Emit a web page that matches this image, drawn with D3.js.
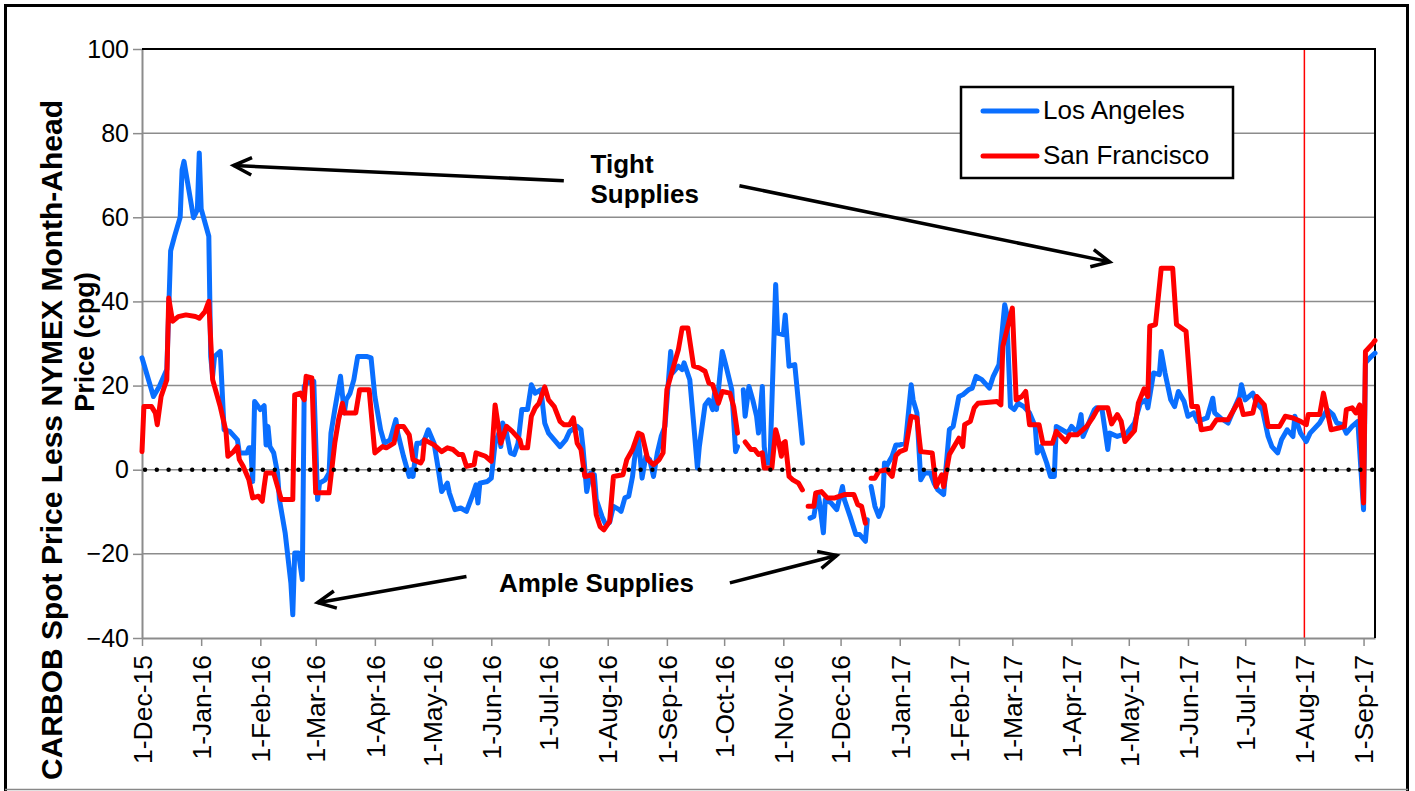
<!DOCTYPE html>
<html><head><meta charset="utf-8">
<script src="https://cdn.jsdelivr.net/npm/d3@7"></script>
<style>
body{margin:0;background:#fff;}
svg{display:block;font-family:Arial,"Liberation Sans",sans-serif;}
</style>
</head><body>
<svg id="chart" width="1415" height="791"></svg>
<script>
// ---------- DATA ----------
const seriesNames = ["Los Angeles", "San Francisco"];
const yTickValues = [-40, -20, 0, 20, 40, 60, 80, 100];
const xTickLabels = ["2015-12-01","2016-01-01","2016-02-01","2016-03-01","2016-04-01","2016-05-01","2016-06-01","2016-07-01","2016-08-01","2016-09-01","2016-10-01","2016-11-01","2016-12-01","2017-01-01","2017-02-01","2017-03-01","2017-04-01","2017-05-01","2017-06-01","2017-07-01","2017-08-01","2017-09-01"];
const xDomain = ["2015-12-01", "2017-09-07"];
const markerDate = "2017-08-01";

const laDates = ["2015-12-01","2015-12-07","2015-12-10","2015-12-14","2015-12-16","2015-12-18","2015-12-21","2015-12-22","2015-12-23","2015-12-28","2015-12-30","2015-12-31","2016-01-01","2016-01-05","2016-01-06","2016-01-07","2016-01-08","2016-01-11","2016-01-13","2016-01-16","2016-01-20","2016-01-21","2016-01-25","2016-01-26","2016-01-27","2016-01-28","2016-01-29","2016-02-01","2016-02-03","2016-02-04","2016-02-05","2016-02-06","2016-02-08","2016-02-10","2016-02-11","2016-02-14","2016-02-17","2016-02-18","2016-02-19","2016-02-21","2016-02-23","2016-02-24","2016-02-25","2016-02-29","2016-03-02","2016-03-03","2016-03-06","2016-03-08","2016-03-09","2016-03-11","2016-03-14","2016-03-16","2016-03-17","2016-03-19","2016-03-21","2016-03-23","2016-03-28","2016-03-30","2016-04-01","2016-04-04","2016-04-06","2016-04-09","2016-04-12","2016-04-13","2016-04-16","2016-04-19","2016-04-20","2016-04-21","2016-04-23","2016-04-25","2016-04-27","2016-04-29","2016-05-02","2016-05-04","2016-05-06","2016-05-09","2016-05-10","2016-05-13","2016-05-16","2016-05-19","2016-05-22","2016-05-24","2016-05-25","2016-05-26","2016-05-30","2016-06-01","2016-06-03","2016-06-05","2016-06-06","2016-06-07","2016-06-09","2016-06-11","2016-06-13","2016-06-15","2016-06-17","2016-06-20","2016-06-22","2016-06-24","2016-06-27","2016-06-29","2016-07-01","2016-07-04","2016-07-07","2016-07-10","2016-07-12","2016-07-16","2016-07-18","2016-07-19","2016-07-21","2016-07-23","2016-07-25","2016-07-26","2016-07-29","2016-07-31","2016-08-02","2016-08-04","2016-08-07","2016-08-08","2016-08-10","2016-08-12","2016-08-14","2016-08-15","2016-08-17","2016-08-19","2016-08-21","2016-08-23","2016-08-25","2016-08-27","2016-08-29","2016-08-31","2016-09-03","2016-09-04","2016-09-07","2016-09-09","2016-09-10","2016-09-13","2016-09-15","2016-09-17","2016-09-18","2016-09-21","2016-09-23","2016-09-25","2016-09-26","2016-09-27","2016-09-30","2016-10-02","2016-10-05","2016-10-07","2016-10-08","2016-10-10","2016-10-11","2016-10-12","2016-10-14","2016-10-16","2016-10-18","2016-10-19","2016-10-21","2016-10-22","2016-10-23","2016-10-25","2016-10-28","2016-10-29","2016-11-01","2016-11-02","2016-11-04","2016-11-07","2016-11-11","2016-11-14","2016-11-15","2016-11-17","2016-11-19","2016-11-20","2016-11-22","2016-11-23","2016-11-26","2016-11-29","2016-12-02","2016-12-03","2016-12-06","2016-12-09","2016-12-11","2016-12-14","2016-12-15","2016-12-16","2016-12-17","2016-12-19","2016-12-21","2016-12-23","2016-12-24","2016-12-25","2016-12-28","2016-12-30","2017-01-01","2017-01-04","2017-01-07","2017-01-08","2017-01-10","2017-01-12","2017-01-14","2017-01-17","2017-01-19","2017-01-21","2017-01-24","2017-01-27","2017-01-29","2017-02-01","2017-02-03","2017-02-06","2017-02-08","2017-02-10","2017-02-13","2017-02-17","2017-02-19","2017-02-22","2017-02-25","2017-02-26","2017-02-28","2017-03-02","2017-03-04","2017-03-07","2017-03-10","2017-03-13","2017-03-14","2017-03-16","2017-03-19","2017-03-21","2017-03-23","2017-03-24","2017-03-27","2017-03-30","2017-04-01","2017-04-04","2017-04-06","2017-04-07","2017-04-13","2017-04-14","2017-04-17","2017-04-20","2017-04-21","2017-04-25","2017-04-30","2017-05-04","2017-05-07","2017-05-10","2017-05-11","2017-05-14","2017-05-17","2017-05-18","2017-05-20","2017-05-23","2017-05-25","2017-05-27","2017-05-30","2017-06-01","2017-06-04","2017-06-06","2017-06-11","2017-06-14","2017-06-15","2017-06-18","2017-06-22","2017-06-25","2017-06-28","2017-06-29","2017-07-01","2017-07-05","2017-07-07","2017-07-10","2017-07-13","2017-07-15","2017-07-18","2017-07-20","2017-07-23","2017-07-26","2017-07-27","2017-07-30","2017-08-02","2017-08-04","2017-08-09","2017-08-13","2017-08-16","2017-08-18","2017-08-21","2017-08-23","2017-08-26","2017-08-29","2017-09-01","2017-09-02","2017-09-05","2017-09-07"];
const laValues = [26.6,17.4,19.7,23.8,52,55.4,60,71.3,73.3,59.9,61.8,75.3,62,55.5,26.9,22.2,26.9,28.1,9.5,9.1,7.1,4,4,5.2,5.2,-2.8,16.2,14.3,15.2,5.9,10.3,5.5,4,-0.8,-7.1,-15,-26.9,-34.5,-19.8,-19.8,-26.1,19.8,20.6,21,-7.1,-3.2,-2.4,-0.8,8.7,14.3,22.2,13.5,16.6,18.2,21.4,26.9,26.9,26.6,17.4,9.5,6.3,7.1,11.9,8.7,3.2,-1.6,0,-1.6,6.3,6.3,7.1,9.5,6.3,0.8,-5.2,-3.2,-5.5,-9.5,-9.1,-9.9,-6.3,-3.6,-7.9,-3.2,-2.8,-2.0,6.3,8.7,5.5,11.1,8.7,4,3.6,6.3,14.3,14.3,20.2,18.2,19,11.1,8.7,7.1,5.5,7.1,9.1,10.3,9.5,5.5,-5.2,-0.8,-1.2,-7.1,-11.1,-13.1,-12.5,-8.7,-9.5,-9.9,-6.7,-6.3,-1.6,2.4,7.9,-2.0,3.2,2.4,-1.6,4,7.9,10.3,28.1,23,24.6,23.8,25.4,21.4,11.1,0.4,5.5,15.4,16.6,14.3,18.2,14.3,28.1,24.6,19,4.3,5.5,null,19,12.7,19.8,16.6,12.7,8.7,19.8,5.5,1.6,1.6,44,32.5,32.1,36.8,24.6,25,6.3,null,-11.5,-11.1,-5.5,-7.9,-15,-7.1,-7.9,-9.5,-4,-7.1,-11.1,-15.4,-15.4,-17,-11.9,null,-4,-8.7,-11.1,-8.7,1.6,0.8,3.2,5.9,5.9,6.3,20.2,16.6,13.5,-2.4,-0.8,-0.8,-3.2,-4.8,-5.9,9.5,10.3,17.4,17.8,19,19.4,22.2,21.4,19.4,22.2,25,39.2,37.2,15,14.3,15.8,15,13.5,10.3,4,5.5,1.6,-1.6,-1.6,10.3,9.5,8.7,10.3,8.7,13.1,7.9,14.3,14.7,14.3,4.8,8.7,7.9,8.7,11.1,15.8,16.6,14.7,23,22.6,28.1,23,16.6,15,18.6,16.2,12.7,13.5,11.5,12.3,17,13.5,12.3,11.1,14.3,17.4,20.2,16.6,18.2,15.8,14.3,7.9,5.5,4,7.1,9.5,7.9,12.7,8.7,6.7,8.7,11.1,14.3,13.1,11.1,10.7,8.7,10.3,11.5,-9.5,25.4,26.9,27.7];

const sfDates = ["2015-12-01","2015-12-02","2015-12-06","2015-12-08","2015-12-09","2015-12-11","2015-12-14","2015-12-15","2015-12-17","2015-12-20","2015-12-24","2015-12-29","2015-12-31","2016-01-03","2016-01-05","2016-01-07","2016-01-11","2016-01-14","2016-01-15","2016-01-18","2016-01-20","2016-01-21","2016-01-23","2016-01-26","2016-01-28","2016-01-31","2016-02-02","2016-02-03","2016-02-04","2016-02-08","2016-02-12","2016-02-18","2016-02-19","2016-02-22","2016-02-24","2016-02-25","2016-02-28","2016-03-01","2016-03-08","2016-03-11","2016-03-13","2016-03-15","2016-03-16","2016-03-22","2016-03-24","2016-03-29","2016-04-01","2016-04-05","2016-04-07","2016-04-11","2016-04-13","2016-04-16","2016-04-19","2016-04-21","2016-04-25","2016-04-26","2016-04-27","2016-05-02","2016-05-06","2016-05-09","2016-05-12","2016-05-15","2016-05-17","2016-05-19","2016-05-23","2016-05-24","2016-05-29","2016-06-01","2016-06-03","2016-06-06","2016-06-09","2016-06-12","2016-06-16","2016-06-17","2016-06-20","2016-06-22","2016-06-24","2016-06-26","2016-06-29","2016-07-01","2016-07-04","2016-07-07","2016-07-09","2016-07-12","2016-07-14","2016-07-16","2016-07-18","2016-07-20","2016-07-24","2016-07-26","2016-07-28","2016-07-30","2016-08-02","2016-08-04","2016-08-09","2016-08-11","2016-08-14","2016-08-17","2016-08-19","2016-08-22","2016-08-25","2016-08-28","2016-08-30","2016-09-01","2016-09-04","2016-09-07","2016-09-09","2016-09-12","2016-09-15","2016-09-18","2016-09-21","2016-09-23","2016-09-25","2016-09-28","2016-09-30","2016-10-04","2016-10-06","2016-10-08","2016-10-10","2016-10-12","2016-10-15","2016-10-17","2016-10-19","2016-10-21","2016-10-22","2016-10-26","2016-10-28","2016-10-29","2016-10-31","2016-11-01","2016-11-02","2016-11-04","2016-11-06","2016-11-09","2016-11-11","2016-11-13","2016-11-14","2016-11-17","2016-11-18","2016-11-21","2016-11-24","2016-11-28","2016-12-03","2016-12-08","2016-12-10","2016-12-12","2016-12-14","2016-12-16","2016-12-17","2016-12-19","2016-12-21","2016-12-25","2016-12-28","2016-12-30","2017-01-01","2017-01-04","2017-01-07","2017-01-10","2017-01-12","2017-01-18","2017-01-20","2017-01-23","2017-01-24","2017-01-27","2017-02-01","2017-02-03","2017-02-04","2017-02-07","2017-02-09","2017-02-11","2017-02-21","2017-02-23","2017-02-24","2017-03-01","2017-03-03","2017-03-06","2017-03-08","2017-03-10","2017-03-15","2017-03-17","2017-03-22","2017-03-24","2017-03-29","2017-03-31","2017-04-04","2017-04-09","2017-04-12","2017-04-15","2017-04-20","2017-04-22","2017-04-25","2017-04-27","2017-04-29","2017-05-04","2017-05-06","2017-05-09","2017-05-11","2017-05-12","2017-05-15","2017-05-18","2017-05-24","2017-05-26","2017-05-31","2017-06-03","2017-06-06","2017-06-08","2017-06-13","2017-06-16","2017-06-22","2017-06-28","2017-06-30","2017-07-05","2017-07-07","2017-07-11","2017-07-13","2017-07-19","2017-07-22","2017-07-26","2017-07-30","2017-08-02","2017-08-03","2017-08-09","2017-08-11","2017-08-15","2017-08-19","2017-08-22","2017-08-23","2017-08-26","2017-08-28","2017-08-30","2017-09-01","2017-09-02","2017-09-06","2017-09-07"];
const sfValues = [4.3,15,15,13.5,10.7,17.4,21.4,40.8,35.3,36.4,36.8,36.4,36,37.6,40,21.4,15,9.1,3.2,4.3,5.5,2.4,0.8,-2.4,-6.7,-6.3,-7.5,-4,-0.8,-0.8,-7.1,-7.1,17.8,18.2,16.6,22.2,21.8,-5.5,-5.5,6.3,11.9,15.8,13.5,13.5,19,19,4,5.5,5.2,6.3,10.3,10.3,8.3,2.4,1.6,2.4,7.1,5.9,4.3,5.2,4.8,3.6,3.6,0.8,1.2,4,3.2,2.0,15.4,6.3,10.3,9.1,7.1,5.2,5.2,12.7,14.7,15.8,19.7,16.6,15,11.5,10.7,10.7,12.3,6.3,4.8,-1.6,-1.2,-10.7,-13.5,-14.3,-12.3,-1.6,-1.2,2.4,4.8,8.7,8.3,2.4,1.2,2.4,4,19,23.8,28.5,33.7,33.7,24.6,24.2,23.4,20.6,20.2,15.8,18.6,18.2,15,8.7,null,6.6,4.8,4.8,3.6,4,0.4,0.4,9.5,7.9,3.2,6.3,6.7,-1.6,-2.4,-3.2,-4.8,null,-8.7,-8.7,-5.5,-5.2,-6.7,-6.7,-5.9,-5.9,-8.3,-8.7,-12.7,null,-2.0,-2.0,-0.4,0,-1.6,3.4,4.3,4.8,12.7,12.3,4.3,4,-4,-1.2,-4,3.6,7.5,5.5,10.7,11.5,14.7,15.8,16.2,15.4,29.3,38.4,16.6,17.4,18.6,10.7,10.7,6.3,6.3,9.1,6.7,8.3,8.3,10.3,12.3,14.7,14.7,10.9,13.1,11.5,6.7,9.3,15.8,19.2,17.4,34.1,34.5,47.9,47.9,34.5,32.9,15,15,9.5,9.9,11.9,11.9,16.6,13.1,13.5,17.4,15.4,10.3,10.3,12.7,12.3,11.5,10.7,13.1,13.1,18.2,9.5,9.9,10.3,14.3,14.7,13.5,15.4,-7.9,28.1,30.1,30.7];

// annotation anchors in data space: [tailDate, tailValue, tipDate, tipValue]
const annotationArrows = [
  ["2016-07-09", 68.7, "2016-01-18", 72.3],
  ["2016-10-09", 67.5, "2017-04-21", 49.4],
  ["2016-05-19", -25.4, "2016-03-02", -31.6],
  ["2016-10-04", -26.9, "2016-11-29", -20.4]
];
const annotationTexts = [
  {lines: ["Tight", "Supplies"], date: "2016-07-23", value: 70.5},
  {lines: ["Ample Supplies"], date: "2016-06-05", value: -29}
];

// ---------- CHART ----------
const parse = d3.utcParse("%Y-%m-%d");
const svg = d3.select("#chart");
const W = 1415, H = 791;
const plot = {left: 142, right: 1375, top: 49, bottom: 638};
const colors = ["#0a6fff", "#ff0000"];

const x = d3.scaleUtc().domain(xDomain.map(parse)).range([plot.left, plot.right]);
const y = d3.scaleLinear().domain([-40, 100]).range([plot.bottom, plot.top]);

svg.append("rect").attr("width", W).attr("height", H).attr("fill", "#fff");

// outer frame
svg.append("path").attr("d", `M5.5,${H}V5.5H1407.5V${H}`).attr("fill", "none").attr("stroke", "#000").attr("stroke-width", 3);
svg.append("line").attr("x1", 5).attr("x2", 1408).attr("y1", 789.5).attr("y2", 789.5).attr("stroke", "#888").attr("stroke-width", 1.5);

// gridlines
svg.append("g").selectAll("line").data(yTickValues.filter(v => v > -40 && v < 100)).join("line")
  .attr("x1", plot.left).attr("x2", plot.right)
  .attr("y1", d => y(d)).attr("y2", d => y(d))
  .attr("stroke", "#8c8c8c").attr("stroke-width", 1.5);

// marker vertical line
svg.append("line")
  .attr("x1", x(parse(markerDate))).attr("x2", x(parse(markerDate)))
  .attr("y1", plot.top).attr("y2", plot.bottom)
  .attr("stroke", "#ff0000").attr("stroke-width", 1.5);

// axes
const yAxis = svg.append("g").attr("transform", `translate(${plot.left},0)`)
  .call(d3.axisLeft(y).tickValues(yTickValues).tickSize(9).tickSizeOuter(0).tickPadding(4));
yAxis.select(".domain").attr("stroke", "#8c8c8c").attr("stroke-width", 2);
yAxis.selectAll(".tick line").attr("stroke", "#8c8c8c").attr("stroke-width", 1.5);
yAxis.selectAll(".tick text").attr("font-size", 25).attr("fill", "#000").attr("font-family", "Arial, 'Liberation Sans', sans-serif");

const xAxis = svg.append("g").attr("transform", `translate(0,${plot.bottom})`)
  .call(d3.axisBottom(x).tickValues(xTickLabels.map(parse)).tickFormat(d3.utcFormat("%-d-%b-%y")).tickSize(8).tickSizeOuter(0));
xAxis.select(".domain").attr("stroke", "#8c8c8c").attr("stroke-width", 2);
xAxis.selectAll(".tick line").attr("stroke", "#8c8c8c").attr("stroke-width", 1.5);
xAxis.selectAll(".tick text")
  .attr("font-size", 26.5).attr("fill", "#000").attr("font-family", "Arial, 'Liberation Sans', sans-serif")
  .attr("text-anchor", "end").attr("transform", "rotate(-90)")
  .attr("x", -17).attr("y", 0).attr("dy", "0.35em");

// plot border top and right (black)
svg.append("path").attr("d", `M${plot.left},${plot.top}H${plot.right}V${plot.bottom}`)
  .attr("fill", "none").attr("stroke", "#000").attr("stroke-width", 2);

// series
const series = [
  {name: seriesNames[0], dates: laDates, values: laValues, color: colors[0]},
  {name: seriesNames[1], dates: sfDates, values: sfValues, color: colors[1]}
];
const line = d3.line().defined(d => d.v !== null).x(d => x(d.d)).y(d => y(d.v));
series.forEach(s => {
  const pts = s.dates.map((d, i) => ({d: parse(d), v: s.values[i]}));
  svg.append("path").datum(pts).attr("d", line)
    .attr("fill", "none").attr("stroke", s.color).attr("stroke-width", 5)
    .attr("stroke-linejoin", "round").attr("stroke-linecap", "round");
});

// dotted zero line
svg.append("line").attr("x1", plot.left + 3).attr("x2", plot.right).attr("y1", y(0)).attr("y2", y(0))
  .attr("stroke", "#000").attr("stroke-width", 4.5).attr("stroke-linecap", "round")
  .attr("stroke-dasharray", "0,11.8");

// y-axis title
const yt = svg.append("g").attr("font-weight", "bold").attr("fill", "#000");
yt.append("text").attr("transform", "translate(62,440) rotate(-90)").attr("text-anchor", "middle")
  .attr("font-size", 30).text("CARBOB Spot Price Less NYMEX Month-Ahead");
yt.append("text").attr("transform", "translate(94,342) rotate(-90)").attr("text-anchor", "middle")
  .attr("font-size", 27).text("Price (cpg)");

// legend
const lg = svg.append("g");
lg.append("rect").attr("x", 961).attr("y", 87).attr("width", 272).attr("height", 91)
  .attr("fill", "#fff").attr("stroke", "#000").attr("stroke-width", 2.5);
series.forEach((s, i) => {
  const ly = 111 + i * 45;
  lg.append("line").attr("x1", 983).attr("x2", 1037).attr("y1", ly).attr("y2", ly)
    .attr("stroke", s.color).attr("stroke-width", 5).attr("stroke-linecap", "round");
  lg.append("text").attr("x", 1043).attr("y", ly + 8).attr("font-size", 26).attr("fill", "#000").text(s.name);
});

// annotations
const ann = svg.append("g");
annotationArrows.forEach(a => {
  const x1 = x(parse(a[0])), y1 = y(a[1]), x2 = x(parse(a[2])), y2 = y(a[3]);
  ann.append("line").attr("x1", x1).attr("y1", y1).attr("x2", x2).attr("y2", y2)
    .attr("stroke", "#000").attr("stroke-width", 3.5);
  const ang = Math.atan2(y1 - y2, x1 - x2), L = 20, spread = 0.45;
  const p1 = [x2 + L * Math.cos(ang + spread), y2 + L * Math.sin(ang + spread)];
  const p2 = [x2 + L * Math.cos(ang - spread), y2 + L * Math.sin(ang - spread)];
  ann.append("path").attr("d", `M${p1[0]},${p1[1]}L${x2},${y2}L${p2[0]},${p2[1]}`)
    .attr("fill", "none").attr("stroke", "#000").attr("stroke-width", 3.5).attr("stroke-linejoin", "miter");
});
annotationTexts.forEach(t => {
  const tx = ann.append("text").attr("x", x(parse(t.date))).attr("y", y(t.value))
    .attr("font-size", 26).attr("font-weight", "bold").attr("fill", "#000");
  t.lines.forEach((l, i) => tx.append("tspan").attr("x", x(parse(t.date))).attr("dy", i === 0 ? 0 : 30).text(l));
});
</script>
</body></html>
